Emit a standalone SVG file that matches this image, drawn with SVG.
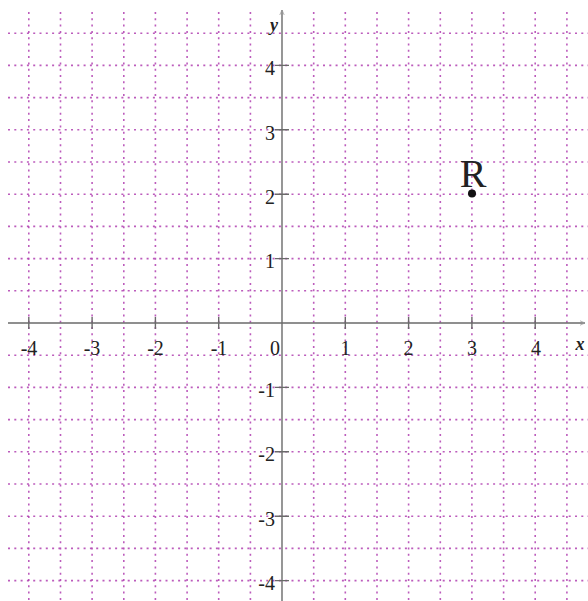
<svg xmlns="http://www.w3.org/2000/svg" width="588" height="601" viewBox="0 0 588 601">
<style>
.g{stroke:#b040b0;stroke-width:1.6;stroke-dasharray:2 4.3;fill:none;opacity:0.85}
.ax{stroke:#6a6a6a;stroke-width:1.4;fill:none}
.t{font-family:"Liberation Serif","Times New Roman",serif;font-size:20px;fill:#222}
.xl{text-anchor:middle}
.yl{text-anchor:end}
.it{font-style:italic;font-weight:bold;font-size:18px}
.big{font-size:40px}
</style>
<defs>
<marker id="arr" viewBox="0 0 10 10" refX="9" refY="5" markerWidth="6" markerHeight="6" orient="auto" markerUnits="userSpaceOnUse">
<path d="M0,1 L9,5 L0,9" fill="none" stroke="#9a9a9a" stroke-width="1.2"/>
</marker>
</defs>
<rect width="588" height="601" fill="#fff"/>
<g id="grid">
<path class="g" d="M28.8,12V601 M60.5,12V601 M92.1,12V601 M123.8,12V601 M155.4,12V601 M187.1,12V601 M218.7,12V601 M250.4,12V601 M313.7,12V601 M345.3,12V601 M377,12V601 M408.6,12V601 M440.3,12V601 M471.9,12V601 M503.6,12V601 M535.2,12V601 M566.9,12V601"/>
<path class="g" d="M8,33.2H588 M8,65.4H588 M8,97.6H588 M8,129.8H588 M8,162H588 M8,194.2H588 M8,226.4H588 M8,258.6H588 M8,290.8H588 M8,355.2H588 M8,387.4H588 M8,419.6H588 M8,451.8H588 M8,484H588 M8,516.2H588 M8,548.4H588 M8,580.6H588"/>
</g>
<g id="axes">
<path class="ax" d="M8,323H585" marker-end="url(#arr)"/>
<path class="ax" d="M282,601V10" marker-end="url(#arr)"/>
<path class="ax" d="M28.8,317V329 M92.1,317V329 M155.4,317V329 M218.7,317V329 M345.3,317V329 M408.6,317V329 M471.9,317V329 M535.2,317V329"/>
<path class="ax" d="M275,65.4H289 M275,129.8H289 M275,194.2H289 M275,258.6H289 M275,387.4H289 M275,451.8H289 M275,516.2H289 M275,580.6H289"/>
</g>
<g id="x-labels" class="t xl">
<text x="29" y="355">-4</text>
<text x="92" y="355">-3</text>
<text x="155.5" y="355">-2</text>
<text x="219" y="355">-1</text>
<text x="275" y="355">0</text>
<text x="345.5" y="355">1</text>
<text x="408.6" y="355">2</text>
<text x="472" y="355">3</text>
<text x="536" y="355">4</text>
<text class="it" x="580" y="350">x</text>
</g>
<g id="y-labels" class="t yl">
<text x="275" y="75">4</text>
<text x="275" y="139.5">3</text>
<text x="275" y="204">2</text>
<text x="275" y="268">1</text>
<text x="275" y="397">-1</text>
<text x="275" y="461">-2</text>
<text x="275" y="525.5">-3</text>
<text x="275" y="590">-4</text>
<text class="it" x="278" y="31">y</text>
</g>
<g id="point-R">
<circle cx="472" cy="193.5" r="4" fill="#111"/>
<text class="t big" x="473" y="187" text-anchor="middle">R</text>
</g>
</svg>
